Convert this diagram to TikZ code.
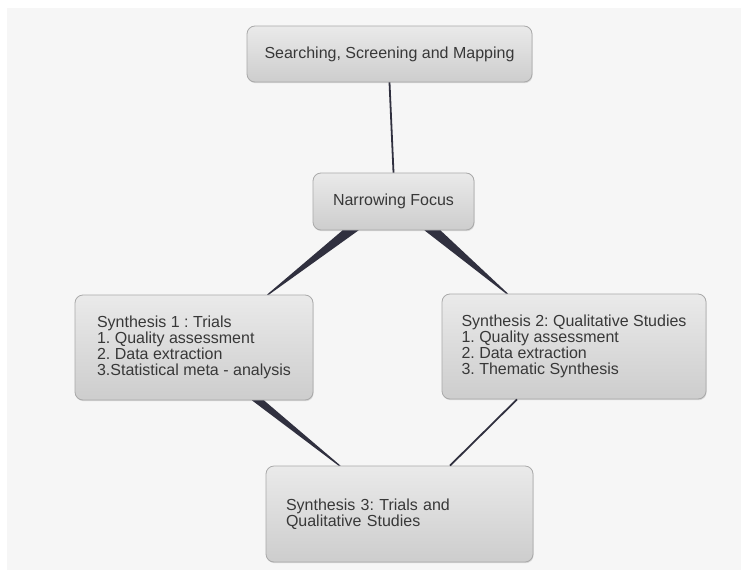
\documentclass[tikz,border=0pt]{standalone}
\usepackage{fontspec}
\setmainfont{Liberation Sans}
\usetikzlibrary{shadows}
\definecolor{bgc}{HTML}{F6F6F6}
\definecolor{boxtop}{HTML}{EAEAEA}
\definecolor{boxbot}{HTML}{CDCDCD}
\definecolor{boxline}{HTML}{A9A9A9}
\definecolor{txt}{HTML}{383838}
\definecolor{conn}{HTML}{30303F}
\tikzset{
  box/.style={draw=boxline, line width=0.8pt, rounded corners=8pt,
    top color=boxtop, bottom color=boxbot, text=txt,
    drop shadow={opacity=0.25, shadow xshift=0.6pt, shadow yshift=-1.2pt},
    font=\fontsize{16}{15.8}\selectfont\frenchspacing, inner sep=0pt},
  listbox/.style={box, align=left},
  thinconn/.style={draw=conn, line width=1.8pt},
  wedge/.style={fill=conn, draw=none}
}
\begin{document}
\begin{tikzpicture}[x=1pt,y=-1pt]
\useasboundingbox (0,0) rectangle (741,570);
\fill[white] (0,0) rectangle (741,570);
\fill[bgc] (7,8) rectangle (741,570);

\node[box, minimum width=285pt, minimum height=56pt] (top) at (389.5,54) {Searching, Screening and Mapping};
\node[box, minimum width=161pt, minimum height=57pt] (narrow) at (393.5,201.5) {Narrowing Focus};
\node[listbox, minimum width=238pt, minimum height=105pt] (s1) at (194,347.5)
  {Synthesis 1 : Trials\\1. Quality assessment\\2. Data extraction\\3.Statistical meta - analysis};
\node[listbox, minimum width=264pt, minimum height=105pt] (s2) at (574,346.5)
  {Synthesis 2: Qualitative Studies\\1. Quality assessment\\2. Data extraction\\3. Thematic Synthesis};
\node[listbox, text width=227pt, inner xsep=20pt, minimum height=96pt] (s3) at (399.5,514)
  {Synthesis 3: Trials and\\Qualitative Studies};

\draw[thinconn] (top.south) -- (narrow.north);
\fill[wedge] ([xshift=-51pt]narrow.south) -- ([xshift=-35pt]narrow.south) -- ([xshift=75pt]s1.north) -- ([xshift=73pt]s1.north) -- cycle;
\fill[wedge] ([xshift=31pt]narrow.south) -- ([xshift=47pt]narrow.south) -- ([xshift=-66pt]s2.north) -- ([xshift=-68pt]s2.north) -- cycle;
\fill[wedge] ([xshift=58pt]s1.south) -- ([xshift=70pt]s1.south) -- ([xshift=-59pt]s3.north) -- ([xshift=-61pt]s3.north) -- cycle;
\draw[thinconn] ([xshift=-57pt]s2.south) -- ([xshift=50.5pt]s3.north);
\end{tikzpicture}
\end{document}
